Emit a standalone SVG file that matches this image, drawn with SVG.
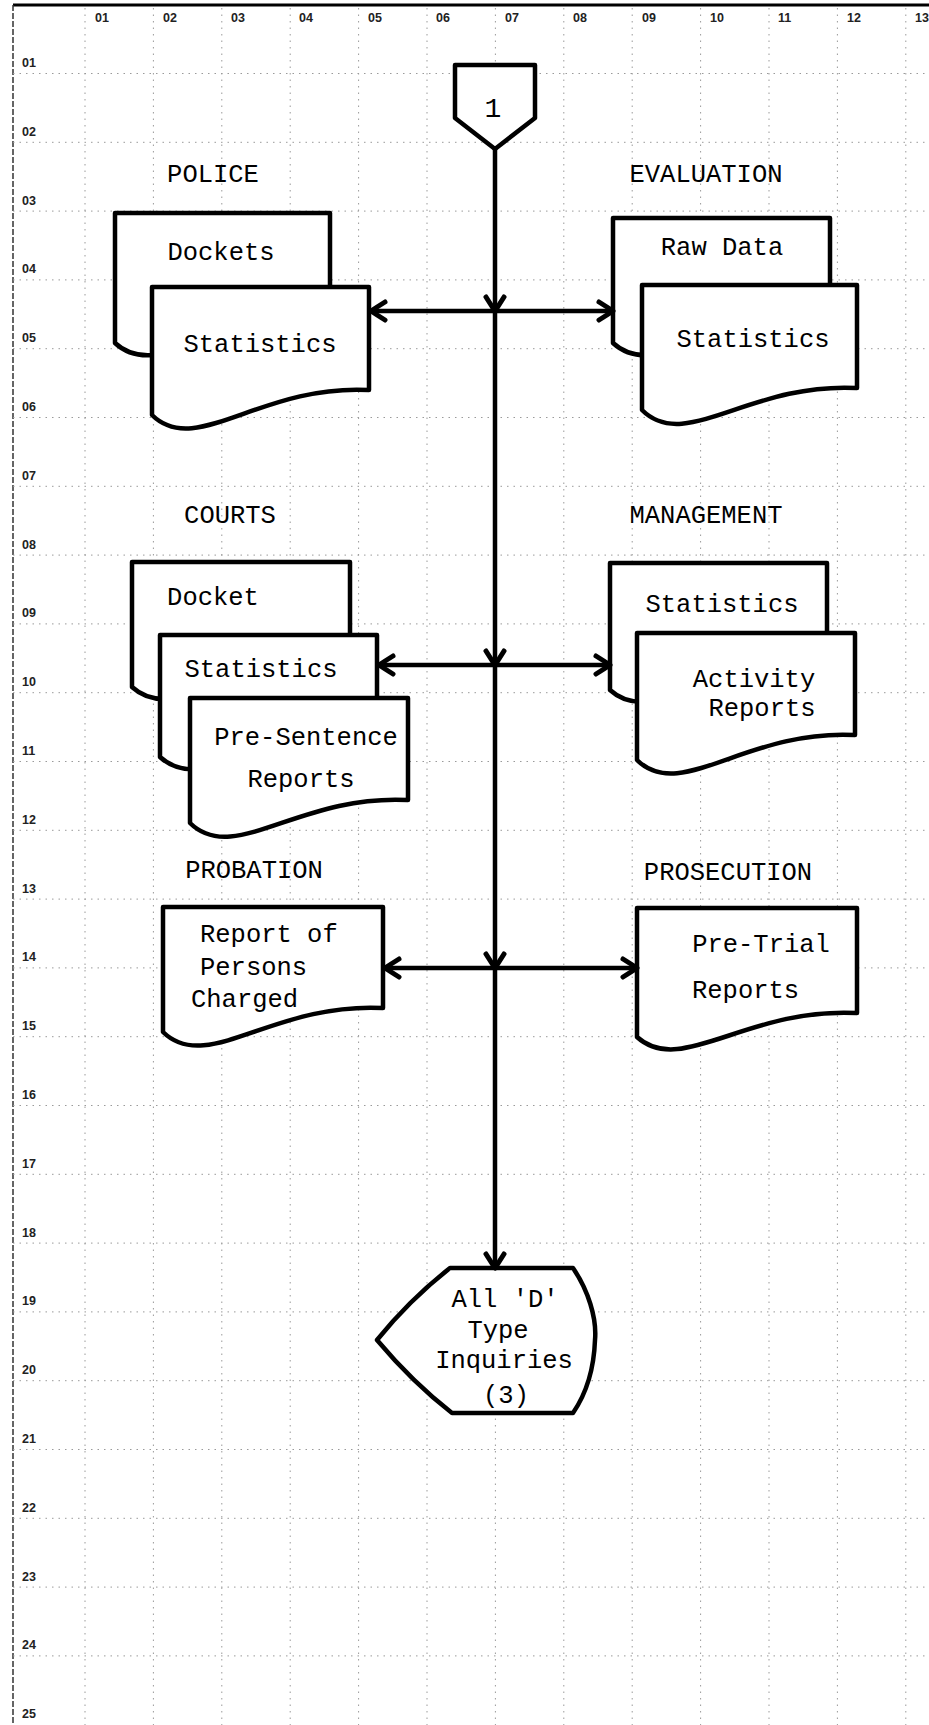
<svg xmlns="http://www.w3.org/2000/svg" width="929" height="1725" viewBox="0 0 929 1725">
<style>
.grid{stroke:#9a9a9a;stroke-width:1;stroke-dasharray:1.5 5;fill:none}
.lbl{font-family:"Liberation Sans",Arial,sans-serif;font-weight:bold;font-size:12.5px;fill:#222}
.doc{fill:#fff;stroke:#000;stroke-width:4.5;stroke-linejoin:round}
.t{font-family:"Liberation Mono","Courier New",monospace;font-size:25.5px;fill:#000;text-anchor:middle}
.tl{font-family:"Liberation Mono","Courier New",monospace;font-size:25.5px;fill:#000}
.con{stroke:#000;stroke-width:4.5;fill:none}
</style>
<defs>
<marker id="ah" markerUnits="userSpaceOnUse" markerWidth="30" markerHeight="30" viewBox="-20 -15 30 30" refX="0" refY="0" orient="auto-start-reverse" overflow="visible">
<path d="M-14,-9 Q-6,-4 0,0 Q-6,4 -14,9" fill="none" stroke="#000" stroke-width="5" stroke-linecap="round" stroke-linejoin="round"/>
</marker>
</defs>
<rect x="0" y="0" width="929" height="1725" fill="#fff"/>
<g id="grid">
<line x1="13" y1="5" x2="929" y2="5" stroke="#000" stroke-width="3"/>
<line x1="13" y1="5" x2="13" y2="1725" stroke="#333" stroke-width="1.5" stroke-dasharray="6 2"/>
<path class="grid" d="M85,8V1725M153.4,8V1725M221.8,8V1725M290.2,8V1725M358.6,8V1725M427,8V1725M495.4,8V1725M563.8,8V1725M632.2,8V1725M700.6,8V1725M769,8V1725M837.4,8V1725M905.8,8V1725"/>
<path class="grid" d="M13,73.5H929M13,142.3H929M13,211.1H929M13,279.9H929M13,348.7H929M13,417.5H929M13,486.3H929M13,555.1H929M13,623.9H929M13,692.7H929M13,761.5H929M13,830.3H929M13,899.1H929M13,967.9H929M13,1036.7H929M13,1105.5H929M13,1174.3H929M13,1243.1H929M13,1311.9H929M13,1380.7H929M13,1449.5H929M13,1518.3H929M13,1587.1H929M13,1655.9H929"/>
<text class="lbl" x="95" y="22">01</text>
<text class="lbl" x="163" y="22">02</text>
<text class="lbl" x="231" y="22">03</text>
<text class="lbl" x="299" y="22">04</text>
<text class="lbl" x="368" y="22">05</text>
<text class="lbl" x="436" y="22">06</text>
<text class="lbl" x="505" y="22">07</text>
<text class="lbl" x="573" y="22">08</text>
<text class="lbl" x="642" y="22">09</text>
<text class="lbl" x="710" y="22">10</text>
<text class="lbl" x="778" y="22">11</text>
<text class="lbl" x="847" y="22">12</text>
<text class="lbl" x="915" y="22">13</text>
<text class="lbl" x="22" y="67">01</text>
<text class="lbl" x="22" y="136">02</text>
<text class="lbl" x="22" y="205">03</text>
<text class="lbl" x="22" y="273">04</text>
<text class="lbl" x="22" y="342">05</text>
<text class="lbl" x="22" y="411">06</text>
<text class="lbl" x="22" y="480">07</text>
<text class="lbl" x="22" y="549">08</text>
<text class="lbl" x="22" y="617">09</text>
<text class="lbl" x="22" y="686">10</text>
<text class="lbl" x="22" y="755">11</text>
<text class="lbl" x="22" y="824">12</text>
<text class="lbl" x="22" y="893">13</text>
<text class="lbl" x="22" y="961">14</text>
<text class="lbl" x="22" y="1030">15</text>
<text class="lbl" x="22" y="1099">16</text>
<text class="lbl" x="22" y="1168">17</text>
<text class="lbl" x="22" y="1237">18</text>
<text class="lbl" x="22" y="1305">19</text>
<text class="lbl" x="22" y="1374">20</text>
<text class="lbl" x="22" y="1443">21</text>
<text class="lbl" x="22" y="1512">22</text>
<text class="lbl" x="22" y="1581">23</text>
<text class="lbl" x="22" y="1649">24</text>
<text class="lbl" x="22" y="1718">25</text>
</g>
<g id="connector-1">
<path class="doc" d="M455,65H535V118L495,149L455,118Z"/>
<text class="t" x="493" y="117" style="font-size:28px">1</text>
</g>
<g id="police">
<text class="t" x="213" y="182">POLICE</text>
<path class="doc" d="M115,213H330V318C222.5,312 158,383 115,343Z"/>
<text class="t" x="221" y="260">Dockets</text>
<path class="doc" d="M152,287H369V390C260.5,384 195.4,458 152,415Z"/>
<text class="t" x="260" y="352">Statistics</text>
</g>
<g id="evaluation">
<text class="t" x="706" y="182">EVALUATION</text>
<path class="doc" d="M613,218H830V318C721.5,312 656.4,383 613,343Z"/>
<text class="t" x="722" y="255">Raw Data</text>
<path class="doc" d="M642,285H857V388C749.5,382 685,453 642,410Z"/>
<text class="t" x="753" y="347">Statistics</text>
</g>
<g id="courts">
<text class="t" x="230" y="523">COURTS</text>
<path class="doc" d="M132,562H350V660C241,654 175.6,727 132,687Z"/>
<text class="t" x="213" y="605">Docket</text>
<path class="doc" d="M160,635H377V732C268.5,726 203.4,797 160,757Z"/>
<text class="t" x="261" y="677">Statistics</text>
<path class="doc" d="M190,698H408V800C299,794 233.6,866 190,823Z"/>
<text class="t" x="306" y="745">Pre-Sentence</text>
<text class="t" x="301" y="787">Reports</text>
</g>
<g id="management">
<text class="t" x="706" y="523">MANAGEMENT</text>
<path class="doc" d="M610,563H827V662C718.5,656 653.4,730 610,690Z"/>
<text class="t" x="722" y="612">Statistics</text>
<path class="doc" d="M637,633H855V735C746,729 680.6,803 637,760Z"/>
<text class="t" x="754" y="687">Activity</text>
<text class="t" x="762" y="716">Reports</text>
</g>
<g id="probation">
<text class="t" x="254" y="878">PROBATION</text>
<path class="doc" d="M163,907H383V1008C273,1002 207,1075 163,1032Z"/>
<text class="tl" x="200" y="942">Report of</text>
<text class="tl" x="200" y="975">Persons</text>
<text class="tl" x="191" y="1007">Charged</text>
</g>
<g id="prosecution">
<text class="t" x="728" y="880">PROSECUTION</text>
<path class="doc" d="M637,908H857V1013C747,1007 681,1077 637,1037Z"/>
<text class="t" x="761" y="952">Pre-Trial</text>
<text class="tl" x="692" y="998">Reports</text>
</g>
<g id="inquiries">
<path class="doc" d="M450,1268H573C588,1290 597,1318 595,1340C594,1368 586,1394 573,1413H452C425,1392 398,1365 377,1340C398,1314 422,1290 450,1268Z"/>
<text class="t" x="505" y="1307">All 'D'</text>
<text class="t" x="498" y="1338">Type</text>
<text class="t" x="504" y="1368">Inquiries</text>
<text class="t" x="506" y="1403">(3)</text>
</g>
<g id="connectors">
<path class="con" d="M495,149V311" marker-end="url(#ah)"/>
<path class="con" d="M495,311V665" marker-end="url(#ah)"/>
<path class="con" d="M495,665V968" marker-end="url(#ah)"/>
<path class="con" d="M495,968V1268" marker-end="url(#ah)"/>
<path class="con" d="M371,311H613" marker-start="url(#ah)" marker-end="url(#ah)"/>
<path class="con" d="M379,665H610" marker-start="url(#ah)" marker-end="url(#ah)"/>
<path class="con" d="M385,968H637" marker-start="url(#ah)" marker-end="url(#ah)"/>
</g>
</svg>
